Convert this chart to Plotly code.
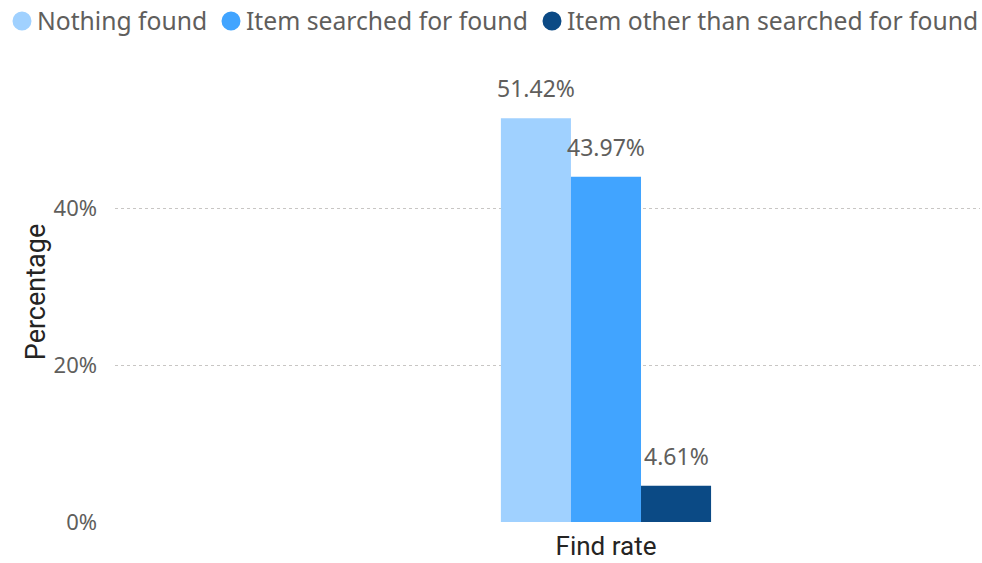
import plotly.graph_objects as go

categories = ["Find rate"]
series_names = ["Nothing found", "Item searched for found", "Item other than searched for found"]
series_values = [[51.42], [43.97], [4.61]]
series_colors = ["#A0D1FF", "#41A4FF", "#0B4A85"]
y_ticks = [0, 20, 40]
y_tick_labels = ["0%", "20%", "40%"]

FONT = "Segoe UI, Noto Sans, sans-serif"
TITLE_FONT = "Roboto, DejaVu Sans"
L, R, T, B = 115, 2, 62, 41
W, H = 982, 563
BARGAP = 0.757
plot_w = W - L - R
plot_h = H - T - B
bar_px = (1 - BARGAP) * plot_w / len(series_names)

# legend layout (pixel positions of the legend markers in the figure)
legend_marker_px = [22, 231, 552]
legend_y_px = 21


def px_to_paper_x(px):
    return (px - L) / plot_w


def px_to_paper_y(py):
    return (H - B - py) / plot_h


fig = go.Figure()
for name, vals, col in zip(series_names, series_values, series_colors):
    fig.add_trace(go.Bar(
        x=categories, y=vals, name=name, marker_color=col, marker_line_width=0,
        showlegend=False, cliponaxis=False,
    ))

annotations = []
shapes = []
n = len(series_names)
for i, vals in enumerate(series_values):
    for cat, v in zip(categories, vals):
        annotations.append(dict(
            x=cat, y=v, xref="x", yref="y", text=f"{v:.2f}%", showarrow=False,
            xanchor="center", yanchor="bottom", yshift=12,
            xshift=(i - (n - 1) / 2) * bar_px,
            font=dict(family=FONT, size=23, color="#605E5C"),
        ))

# legend: circle marker + label per series
for name, col, mx in zip(series_names, series_colors, legend_marker_px):
    shapes.append(dict(
        type="circle", xref="paper", yref="paper",
        xsizemode="pixel", ysizemode="pixel",
        xanchor=px_to_paper_x(mx), yanchor=px_to_paper_y(legend_y_px),
        x0=-9.5, x1=9.5, y0=-9.5, y1=9.5,
        fillcolor=col, line=dict(width=0),
    ))
    annotations.append(dict(
        x=px_to_paper_x(mx + 14), y=px_to_paper_y(legend_y_px),
        xref="paper", yref="paper", text=name, showarrow=False,
        xanchor="left", yanchor="middle", borderpad=0,
        font=dict(family=FONT, size=24.7, color="#605E5C"),
    ))

fig.update_layout(
    width=W, height=H,
    margin=dict(l=L, r=R, t=T, b=B, autoexpand=False),
    paper_bgcolor="white", plot_bgcolor="white",
    barmode="group", bargap=BARGAP, bargroupgap=0,
    font=dict(family=FONT, size=22, color="#605E5C"),
    annotations=annotations,
    shapes=shapes,
    showlegend=False,
)
fig.update_xaxes(
    type="category", range=[-0.5676, 0.4324],
    showgrid=False, showline=False, zeroline=False,
    tickfont=dict(family=TITLE_FONT, size=26, color="#252423"),
    ticklabelstandoff=6, automargin=False,
)
fig.update_yaxes(
    range=[0, plot_h / 7.85], tickvals=y_ticks, ticktext=y_tick_labels,
    showgrid=True, gridcolor="#C8C6C4", griddash="dot", gridwidth=1,
    zeroline=False, showline=False,
    tickfont=dict(family=FONT, size=22, color="#605E5C"),
    ticklabelstandoff=17, automargin=False,
    title=dict(text="Percentage", font=dict(family=TITLE_FONT, size=27, color="#252423"), standoff=0),
)
fig.write_html("out.html", config={"displayModeBar": False},
               post_script="document.body.style.margin='0';")
